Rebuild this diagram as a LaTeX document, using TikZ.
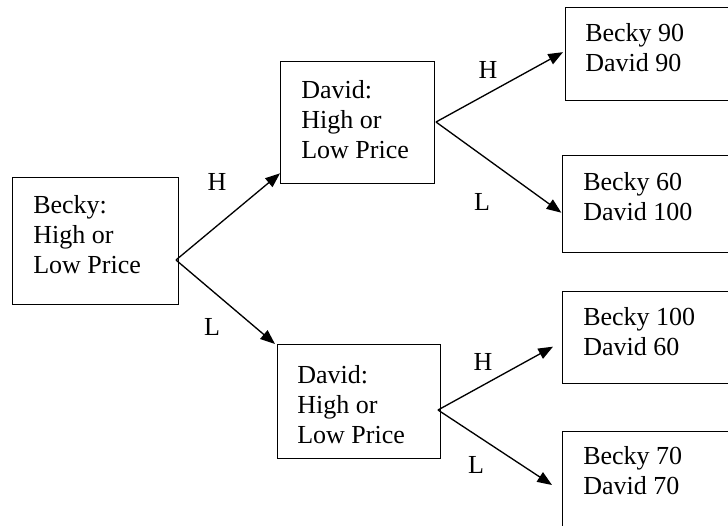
\documentclass[tikz,border=0pt]{standalone}
\usepackage{fontspec}
\setmainfont{Liberation Serif}
\usetikzlibrary{arrows.meta}
\tikzset{
  box/.style={draw, line width=1pt, inner sep=0pt, anchor=north west},
  txt/.style={inner sep=0pt, anchor=base west, font=\fontsize{19.5}{22.5}\selectfont},
  lbl/.style={inner sep=0pt, font=\fontsize{19.5}{22.5}\selectfont},
  arr/.style={line width=1pt, -{Triangle[length=11pt,width=8.5pt]}}
}
\newcommand{\twolines}[2]{\begin{tabular}[t]{@{}l@{}}#1\\#2\end{tabular}}
\newcommand{\threelines}[3]{\begin{tabular}[t]{@{}l@{}}#1\\#2\\#3\end{tabular}}
\begin{document}
\begin{tikzpicture}[x=0.75pt,y=-0.75pt]
\useasboundingbox (0,0) rectangle (728,525);
\clip (0,0) rectangle (728,525);
% boxes
\node[box, minimum width=124.5pt, minimum height=95.25pt] (becky) at (12,177) {};
\node[box, minimum width=115.5pt, minimum height=91.5pt] (dU) at (280,61) {};
\node[box, minimum width=122.25pt, minimum height=85.5pt] (dL) at (277,344) {};
\node[box, minimum width=150pt, minimum height=69.75pt] (r1) at (565,7) {};
\node[box, minimum width=150pt, minimum height=72.75pt] (r2) at (562,155) {};
\node[box, minimum width=150pt, minimum height=69pt] (r3) at (562,291) {};
\node[box, minimum width=150pt, minimum height=90pt] (r4) at (562,431) {};
% texts
\node[txt] (tb) at (33,213) {\threelines{Becky:}{High or}{Low Price}};
\node[txt] (tdu) at (301,98) {\threelines{David:}{High or}{Low Price}};
\node[txt] (tdl) at (297,383) {\threelines{David:}{High or}{Low Price}};
\node[txt] (t1) at (585,41) {\twolines{Becky 90}{David 90}};
\node[txt] (t2) at (583,190) {\twolines{Becky 60}{David 100}};
\node[txt] (t3) at (583,325) {\twolines{Becky 100}{David 60}};
\node[txt] (t4) at (583,464) {\twolines{Becky 70}{David 70}};
% branch points
\coordinate (bo) at (176,260);
\coordinate (duo) at (436,122);
\coordinate (dlo) at (438,410);
% arrows
\draw[arr] (bo) -- ([yshift=8.25pt]dU.south west);
\draw[arr] (bo) -- ([xshift=-1.5pt]dL.north west);
\draw[arr] (duo) -- ([xshift=-1.5pt,yshift=1.5pt]r1.west);
\draw[arr] (duo) -- ([xshift=-0.5pt,yshift=-6.4pt]r2.west);
\draw[arr] (dlo) -- ([xshift=-6.75pt,yshift=-6.75pt]r3.west);
\draw[arr] (dlo) -- ([xshift=-7.5pt,yshift=-40.5pt]r4.north west);
% labels
\node[lbl] (lH1) at (217,182) {H};
\node[lbl] (lL1) at (212,327) {L};
\node[lbl] (lH2) at (488,70) {H};
\node[lbl] (lL2) at (482,202) {L};
\node[lbl] (lH3) at (483,362) {H};
\node[lbl] (lL3) at (476,465) {L};
\end{tikzpicture}
\end{document}
